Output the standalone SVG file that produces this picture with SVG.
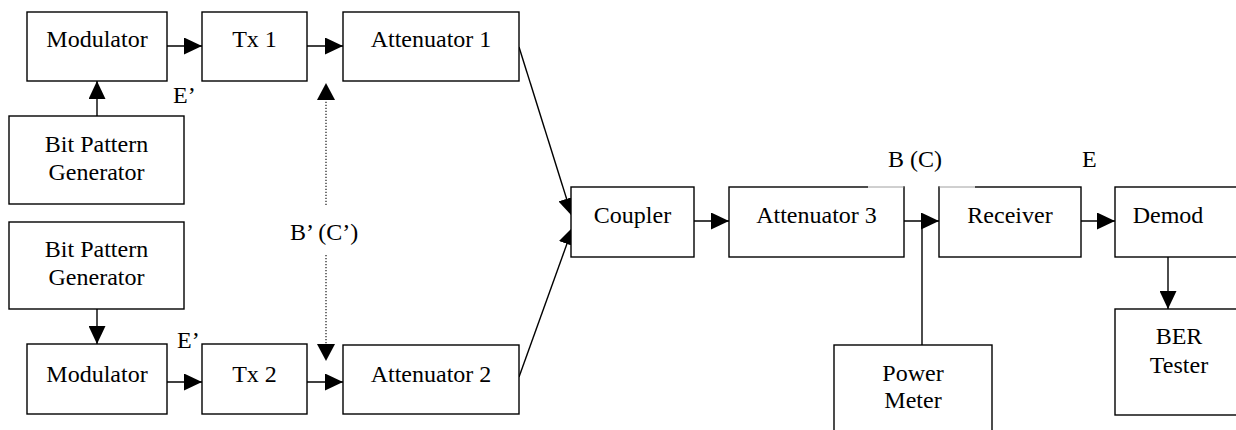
<svg xmlns="http://www.w3.org/2000/svg" width="1236" height="430" viewBox="0 0 1236 430">
<style>
.box{fill:#fff;stroke:#000;stroke-width:1.4}
.t{font-family:"Liberation Serif","Times New Roman",serif;font-size:24px;fill:#000;text-anchor:middle}
.lb{font-family:"Liberation Serif","Times New Roman",serif;font-size:24px;fill:#000}
.c{fill:none;stroke:#000;stroke-width:1.4}
.a{marker-end:url(#ah)}
.d{fill:none;stroke:#000;stroke-width:1.1;stroke-dasharray:1.2 1.8}
</style>
<defs>
<marker id="ah" markerUnits="userSpaceOnUse" viewBox="0 0 18 17" refX="18" refY="8.5" markerWidth="18" markerHeight="17" orient="auto">
<path d="M0,0 L18,8.5 L0,17 z" fill="#000"/>
</marker>
</defs>
<rect width="1236" height="430" fill="#fff"/>
<g id="connectors">
<line class="c a" x1="167" y1="46" x2="202" y2="46"/>
<line class="c a" x1="307" y1="46" x2="343" y2="46"/>
<line class="c a" x1="97" y1="116" x2="97" y2="81"/>
<line class="c a" x1="97" y1="309" x2="97" y2="344"/>
<line class="c a" x1="167" y1="382" x2="202" y2="382"/>
<line class="c a" x1="307" y1="382" x2="343" y2="382"/>
<line class="c a" x1="519" y1="47" x2="572" y2="216"/>
<line class="c a" x1="519" y1="377" x2="573" y2="227"/>
<line class="c a" x1="694" y1="221" x2="729" y2="221"/>
<line class="c a" x1="904" y1="221" x2="939" y2="221"/>
<line class="c" x1="922" y1="221" x2="922" y2="345"/>
<line class="c a" x1="1081" y1="221" x2="1115" y2="221"/>
<line class="c a" x1="1168" y1="257" x2="1168" y2="309"/>
<line class="d" x1="326" y1="205" x2="326" y2="100"/>
<path d="M317,100 L326,83 L335,100 z" fill="#000"/>
<line class="d" x1="326" y1="255" x2="326" y2="344"/>
<path d="M317,344 L326,361 L335,344 z" fill="#000"/>
</g>
<g id="modulator1"><rect class="box" x="27" y="12" width="140" height="69"/><text class="t" x="97" y="47">Modulator</text></g>
<g id="tx1"><rect class="box" x="202" y="12" width="105" height="69"/><text class="t" x="254.5" y="47">Tx 1</text></g>
<g id="attenuator1"><rect class="box" x="343" y="12" width="176" height="69"/><text class="t" x="431" y="47">Attenuator 1</text></g>
<g id="bpg1"><rect class="box" x="9" y="116" width="175" height="88"/><text class="t" x="96.5" y="152">Bit Pattern</text><text class="t" x="96.5" y="180">Generator</text></g>
<g id="bpg2"><rect class="box" x="9" y="222" width="175" height="87"/><text class="t" x="96.5" y="257">Bit Pattern</text><text class="t" x="96.5" y="285">Generator</text></g>
<g id="modulator2"><rect class="box" x="27" y="344" width="140" height="70"/><text class="t" x="97" y="382">Modulator</text></g>
<g id="tx2"><rect class="box" x="202" y="344" width="105" height="70"/><text class="t" x="254.5" y="382">Tx 2</text></g>
<g id="attenuator2"><rect class="box" x="343" y="345" width="176" height="69"/><text class="t" x="431" y="382">Attenuator 2</text></g>
<g id="coupler"><rect class="box" x="571" y="187" width="123" height="70"/><text class="t" x="632.5" y="223">Coupler</text></g>
<g id="attenuator3"><rect class="box" x="729" y="187" width="175" height="70"/><text class="t" x="816.5" y="223">Attenuator 3</text></g>
<g id="receiver"><rect class="box" x="939" y="187" width="142" height="70"/><text class="t" x="1010" y="223">Receiver</text></g>
<g id="demod"><rect class="box" x="1115" y="187" width="130" height="70"/><text class="t" x="1168" y="223">Demod</text></g>
<g id="powermeter"><rect class="box" x="834" y="345" width="158" height="100"/><text class="t" x="913" y="381">Power</text><text class="t" x="913" y="408">Meter</text></g>
<g id="bertester"><rect class="box" x="1115" y="309" width="130" height="106"/><text class="t" x="1179" y="344">BER</text><text class="t" x="1179" y="373">Tester</text></g>
<g id="marks">
<line x1="868" y1="187" x2="903.3" y2="187" stroke="#fff" stroke-width="1.8"/>
<line x1="868" y1="187" x2="903.3" y2="187" stroke="#888" stroke-width="0.8"/>
<line x1="939.7" y1="187" x2="975" y2="187" stroke="#fff" stroke-width="1.8"/>
<line x1="939.7" y1="187" x2="975" y2="187" stroke="#888" stroke-width="0.8"/>
</g>
<g id="labels">
<text class="lb" x="173" y="103">E’</text>
<text class="lb" x="177" y="348">E’</text>
<text class="lb" x="290" y="240">B’ (C’)</text>
<text class="lb" x="888" y="167">B (C)</text>
<text class="lb" x="1082" y="167">E</text>
</g>
</svg>
